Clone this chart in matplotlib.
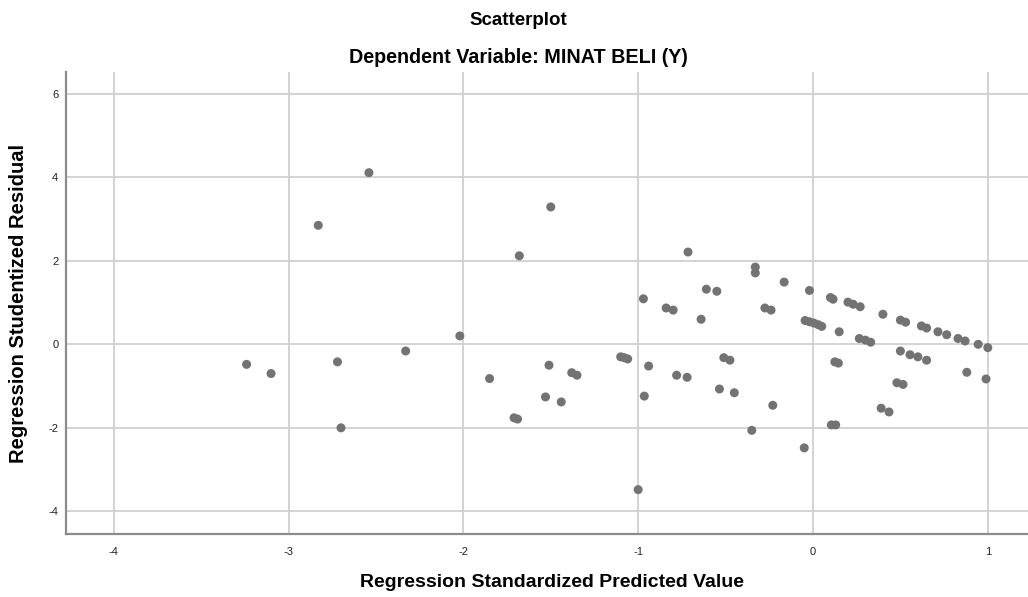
import matplotlib
matplotlib.use("Agg")
import matplotlib.pyplot as plt

plt.rcParams['font.family'] = ['Liberation Sans', 'DejaVu Sans']

predicted = [-3.24, -3.10, -2.83, -2.72, -2.70, -2.54, -2.33, -2.02, -1.85, -1.71,
             -1.69, -1.68, -1.53, -1.51, -1.50, -1.44, -1.38, -1.35, -1.10, -1.08,
             -1.06, -1.00, -0.97, -0.965, -0.94, -0.84, -0.80, -0.78, -0.72, -0.715,
             -0.64, -0.61, -0.55, -0.535, -0.51, -0.475, -0.45, -0.35, -0.33, -0.33,
             -0.275, -0.24, -0.23, -0.165, -0.05, -0.02, -0.045, -0.02, 0.005, 0.03,
             0.05, 0.10, 0.115, 0.105, 0.13, 0.125, 0.145, 0.15, 0.20, 0.23,
             0.27, 0.265, 0.30, 0.33, 0.40, 0.39, 0.435, 0.48, 0.515, 0.50,
             0.555, 0.60, 0.65, 0.50, 0.53, 0.62, 0.65, 0.715, 0.765, 0.83,
             0.87, 0.945, 1.00, 0.88, 0.99]
residual = [-0.48, -0.70, 2.85, -0.42, -2.00, 4.11, -0.16, 0.20, -0.82, -1.76,
            -1.79, 2.12, -1.26, -0.50, 3.29, -1.38, -0.68, -0.74, -0.30, -0.32,
            -0.35, -3.48, 1.09, -1.24, -0.52, 0.87, 0.82, -0.74, -0.79, 2.21,
            0.60, 1.32, 1.27, -1.07, -0.32, -0.38, -1.16, -2.06, 1.85, 1.71,
            0.87, 0.82, -1.46, 1.49, -2.48, 1.29, 0.57, 0.54, 0.51, 0.47,
            0.43, 1.12, 1.08, -1.93, -1.93, -0.42, -0.45, 0.30, 1.01, 0.96,
            0.90, 0.14, 0.10, 0.05, 0.72, -1.53, -1.62, -0.92, -0.96, -0.16,
            -0.25, -0.30, -0.38, 0.58, 0.53, 0.44, 0.39, 0.30, 0.23, 0.14,
            0.08, 0.00, -0.08, -0.67, -0.83]

x_ticks = [-4, -3, -2, -1, 0, 1]
y_ticks = [-4, -2, 0, 2, 4, 6]

fig = plt.figure(figsize=(10.28, 5.97), dpi=100)
ax = fig.add_axes([0.0642, 0.105, 0.9358, 0.775])

ax.scatter(predicted, residual, s=42, color='#737373', edgecolors='none', zorder=3)

ax.set_xlim(-4.273, 1.23)
ax.set_ylim(-4.55, 6.53)
ax.set_xticks(x_ticks)
ax.set_yticks(y_ticks)
ax.set_xticklabels([str(t) for t in x_ticks])
ax.set_yticklabels([str(t) for t in y_ticks])
ax.grid(True, color='#d0d0d0', linewidth=1.3, zorder=0)
ax.set_axisbelow(True)
for s in ['top', 'right']:
    ax.spines[s].set_visible(False)
for s in ['left', 'bottom']:
    ax.spines[s].set_color('#8c8c8c')
    ax.spines[s].set_linewidth(1.6)
ax.tick_params(length=0, labelsize=8, colors='#222222')
ax.tick_params(axis='x', pad=9)
ax.tick_params(axis='y', pad=5.5)

fig.text(0.537, 0.024, 'Regression Standardized Predicted Value', ha='center',
         va='center', fontsize=14, fontweight='bold')
fig.text(0.018, 0.492, 'Regression Studentized Residual', ha='center',
         va='center', rotation=90, fontsize=14.5, fontweight='bold')

fig.text(0.504, 0.958, 'Scatterplot', ha='center', va='baseline',
         fontsize=13.5, fontweight='bold')
fig.text(0.504, 0.895, 'Dependent Variable: MINAT BELI (Y)', ha='center',
         va='baseline', fontsize=14.2, fontweight='bold')

fig.savefig('out.png', dpi=100)
